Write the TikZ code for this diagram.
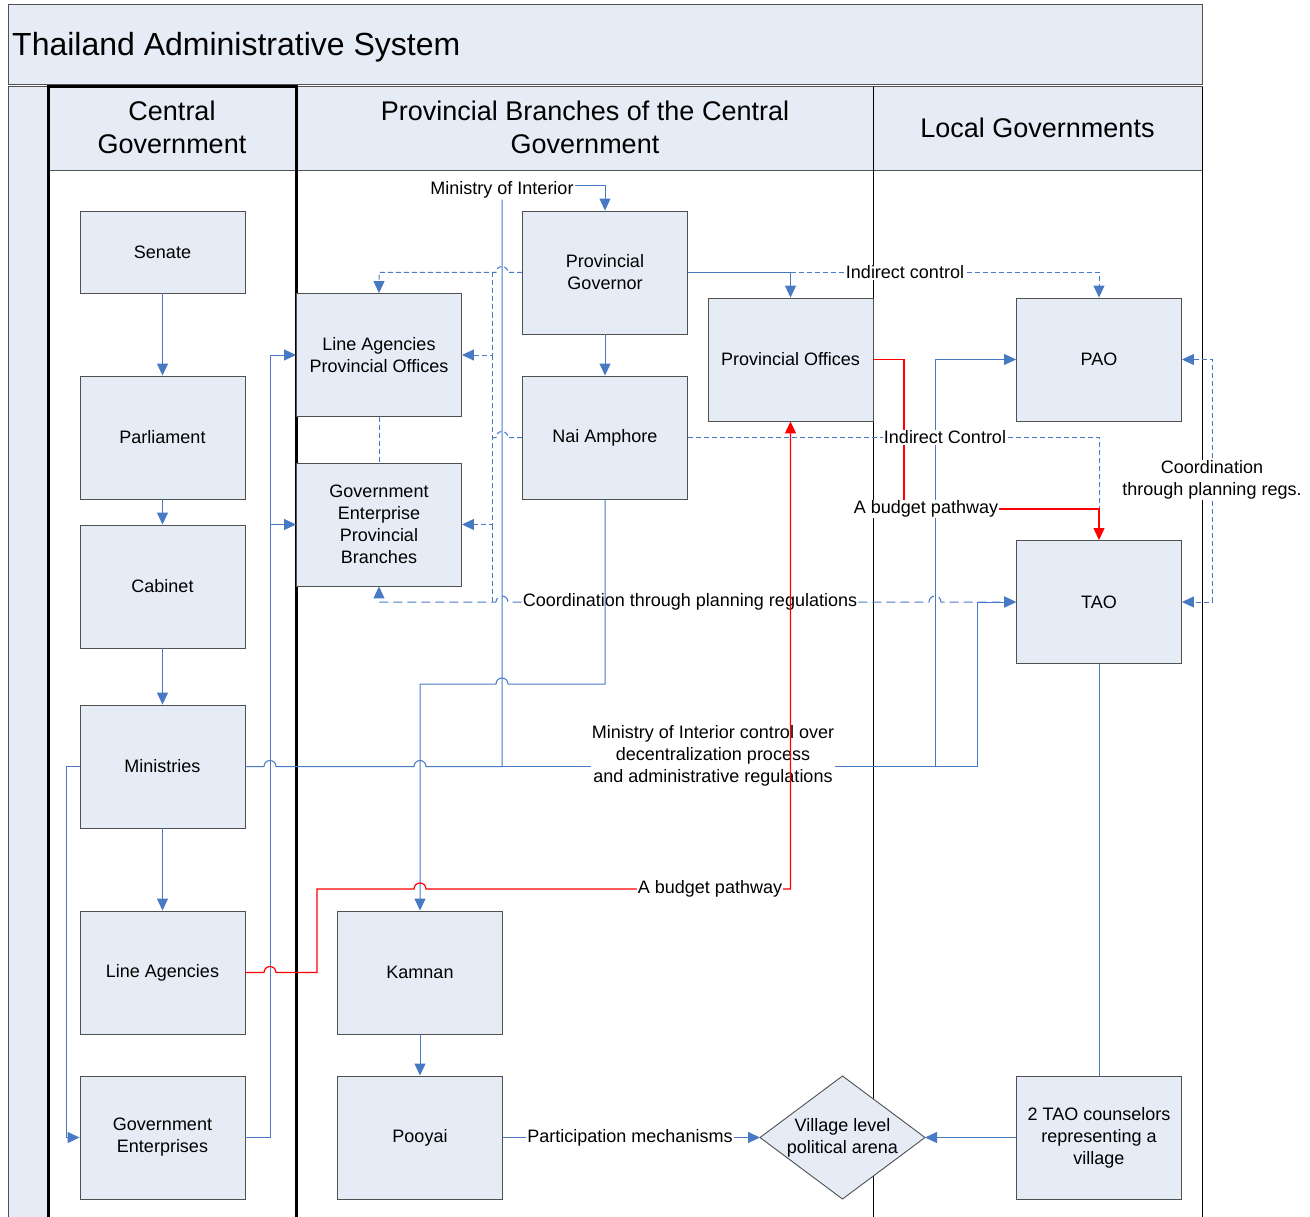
\documentclass[tikz,border=0pt]{standalone}
\usepackage{fontspec}
\setmainfont{Liberation Sans}
\usetikzlibrary{arrows.meta}
\definecolor{boxfill}{RGB}{230,236,246}
\definecolor{lnblue}{RGB}{72,122,196}
\definecolor{framegray}{RGB}{80,80,80}
\definecolor{budgetred}{RGB}{255,0,0}
\newcommand\fsnode{\fontsize{18}{22}\selectfont}
\newcommand\fshead{\fontsize{27}{33}\selectfont}
\newcommand\fstitle{\fontsize{32}{38}\selectfont}
\begin{document}
\begin{tikzpicture}[x=1pt,y=-1pt,
  box/.style={draw=framegray, fill=boxfill, line width=0.9pt, minimum width=165pt, minimum height=123pt, align=center, font=\fsnode, inner sep=2pt},
  smallbox/.style={box, minimum height=82pt},
  conn/.style={draw=lnblue, line width=1pt},
  arr/.style={-{Triangle[length=12pt,width=11pt]}},
  dsh/.style={dash pattern=on 5pt off 3pt},
  dshlong/.style={dash pattern=on 9pt off 5pt},
  redln/.style={draw=budgetred, line width=1.2pt},
  lbl/.style={font=\fsnode, align=center, inner sep=1pt},
  wlbl/.style={lbl, fill=white},
  headtxt/.style={font=\fshead, align=center}
]
\useasboundingbox (0,0) rectangle (1310,1217);
\fill[white] (0,0) rectangle (1310,1217);

% ---------- title band ----------
\draw[framegray, fill=boxfill, line width=1pt] (8,5) rectangle (1202,85);
\node[font=\fstitle, anchor=west, inner sep=0pt] (title) at (12,47) {Thailand Administrative System};

% ---------- pool / lanes ----------
\draw[framegray, fill=boxfill, line width=1pt] (8,87) rectangle (1202,1240);
\fill[white] (48,170) rectangle (1202,1240);
\draw[framegray, line width=0.8pt] (48,170) -- (1202,170);
\draw[black, line width=1pt] (873,87) -- (873,1240);
\draw[black, line width=1pt] (1202,87) -- (1202,1240);
\draw[black, line width=3pt] (48,1240) -- (48,87) -- (296,87) -- (296,1240);
\node[headtxt] (h1) at (172,127) {Central\\Government};
\node[headtxt] (h2) at (585,127) {Provincial Branches of the Central\\Government};
\node[headtxt] (h3) at (1037.5,128) {Local Governments};

% ---------- nodes ----------
\node[smallbox] (sen) at (162.5,252) {Senate};
\node[box] (par) at (162.5,437.5) {Parliament};
\node[box] (cab) at (162.5,586.5) {Cabinet};
\node[box] (min) at (162.5,766.5) {Ministries};
\node[box] (lag) at (162.5,972.5) {Line Agencies};
\node[box] (gen) at (162.5,1137.5) {Government\\Enterprises};
\node[box] (lapo) at (379,355) {Line Agencies\\Provincial Offices};
\node[box] (gepb) at (379,524.5) {Government\\Enterprise\\Provincial\\Branches};
\node[box] (pg) at (605,272.5) {Provincial\\Governor};
\node[box] (nai) at (605,437.5) {Nai Amphore};
\node[box] (pof) at (790.5,359.5) {Provincial Offices};
\node[box] (pao) at (1099,359.5) {PAO};
\node[box] (tao) at (1099,602) {TAO};
\node[box] (kam) at (420,972.5) {Kamnan};
\node[box] (poo) at (420,1137.5) {Pooyai};
\node[box] (cou) at (1099,1137.5) {2 TAO counselors\\representing a\\village};
\coordinate (vilW) at (760,1137.5);
\coordinate (vilE) at (925,1137.5);
\draw[framegray, fill=boxfill, line width=0.9pt] (vilW) -- (842.5,1076) -- (vilE) -- (842.5,1199) -- cycle;
\node[lbl] (vil) at (842.5,1138) {Village level\\political arena};

% labels without fill (lines pass through them)
\node[lbl] (moi) at (502,190) {Ministry of Interior};
\node[lbl] (mlab) at (713,756) {Ministry of Interior control over\\decentralization process\\and administrative regulations};
\node[lbl] (coord) at (690,602) {Coordination through planning regulations};

% ---------- central chain ----------
\draw[conn,arr] (sen) -- (par);
\draw[conn,arr] (par) -- (cab);
\draw[conn,arr] (cab) -- (min);
\draw[conn,arr] (min) -- (lag);
\draw[conn,arr] (min.west) -- (66,766.5) -- (66,1137.5) -- (gen.west);
\draw[conn,arr] (gen.east) -- (270,1137.5) -- (270,355) -- (lapo.west);
\draw[conn,arr] (270,524.5) -- (gepb.west);

% ---------- Ministry of Interior control ----------
\draw[conn] (min.east) -- (264,766.5) arc[start angle=180,end angle=0,radius=6pt]
  -- (414,766.5) arc[start angle=180,end angle=0,radius=6pt] -- (502,766.5) -- (moi.south);
\draw[conn,arr] (moi.east) ++(0,-4) -- (605,186) -- (pg.north);
\draw[conn] (502,766.5) -- (min.east -| mlab.west);
\draw[conn,arr] (min.east -| mlab.east) -- (935,766.5) -- (935,359.5) -- (pao.west);
\draw[conn,arr] (935,766.5) -- (977,766.5) -- (977,602) -- (tao.west);

% ---------- provincial governor ----------
\draw[conn,arr] (pg) -- (nai);
\draw[conn,arr] (pg.east) -- (790.5,272.5) -- (pof.north);
\draw[conn,dsh,arr] (790.5,272.5) -- (1099,272.5) -- (pao.north);
\draw[conn,dsh,arr] (pg.west) -- (508,272.5) arc[start angle=0,end angle=180,radius=6pt] -- (379,272.5) -- (lapo.north);
\draw[conn,dsh,arr] (492,272.5) -- (492,355) -- (lapo.east);
\draw[conn,dsh,arr] (492,355) -- (492,524.5) -- (gepb.east);
\draw[conn,dsh] (492,524.5) -- (492,602);
\draw[conn,dsh] (nai.west) -- (508,437.5) arc[start angle=0,end angle=180,radius=6pt] -- (492,437.5);
\draw[conn,dsh] (lapo.south) -- (gepb.north);

% ---------- coordination through planning regulations ----------
\draw[conn,dshlong,arr] (coord.west) -- (508,602) arc[start angle=0,end angle=180,radius=6pt] -- (379,602) -- (gepb.south);
\draw[conn,dshlong,arr] (coord.east) -- (929,602) arc[start angle=180,end angle=0,radius=6pt] -- (tao.west);

% ---------- Nai Amphore ----------
\draw[conn,dsh] (nai.east) -- (1099,437.5) -- (1099,509);
\draw[conn,arr] (nai.south) -- (605,684) -- (508,684) arc[start angle=0,end angle=180,radius=6pt] -- (420,684) -- (kam.north);

% ---------- budget pathways ----------
\draw[redln,arr] (pof.east) -- (904,359.5) -- (904,509) -- (1099,509) -- (tao.north);
\draw[redln,arr] (lag.east) -- (264,972.5) arc[start angle=180,end angle=0,radius=6pt] -- (317,972.5) -- (317,889)
  -- (414,889) arc[start angle=180,end angle=0,radius=6pt] -- (790.5,889) -- (pof.south);

% ---------- bottom ----------
\draw[conn,arr] (kam) -- (poo);
\draw[conn,arr] (poo.east) -- (vilW);
\draw[conn,arr] (cou.west) -- (vilE);
\draw[conn] (tao.south) -- (cou.north);

% ---------- PAO - TAO coordination ----------
\draw[conn,dsh,{Triangle[length=12pt,width=11pt]}-{Triangle[length=12pt,width=11pt]}] (pao.east) -- (1212,359.5) -- (1212,602) -- (tao.east);

% ---------- filled labels ----------
\node[wlbl] (ic1) at (905,272.5) {Indirect control};
\node[wlbl] (ic2) at (945,437.5) {Indirect Control};
\node[wlbl] (bp1) at (926,509) {A budget pathway};
\node[wlbl] (bp2) at (710,889) {A budget pathway};
\node[wlbl] (pm) at (630,1137.5) {Participation mechanisms};
\node[wlbl] (cr) at (1212,480) {Coordination\\through planning regs.};
\end{tikzpicture}
\end{document}
